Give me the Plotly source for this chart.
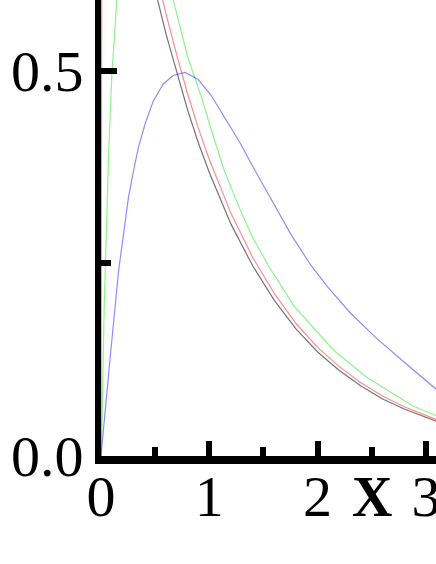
import plotly.graph_objects as go

# ---- data ----
black_x = [0, 0.1, 0.2, 0.3, 0.4, 0.5, 0.6, 0.7, 0.8, 0.9, 1.0, 1.2, 1.4, 1.6, 1.8, 2.0, 2.2, 2.4, 2.6, 2.8, 3.0, 3.1]
black_y = [1.0, 0.90, 0.82, 0.74, 0.67, 0.605, 0.548, 0.497, 0.449, 0.406, 0.368, 0.301, 0.247, 0.202, 0.165, 0.135, 0.111, 0.091, 0.074, 0.061, 0.050, 0.045]

red_x = [0, 0.01, 0.1, 0.2, 0.3, 0.4, 0.5, 0.6, 0.7, 0.8, 0.9, 1.0, 1.2, 1.4, 1.6, 1.8, 2.0, 2.2, 2.4, 2.6, 2.8, 3.0, 3.1]
red_y = [0, 0.95, 0.93, 0.85, 0.775, 0.70, 0.633, 0.574, 0.520, 0.470, 0.425, 0.385, 0.315, 0.258, 0.211, 0.172, 0.141, 0.116, 0.095, 0.078, 0.064, 0.052, 0.047]

green_x = [0, 0.01, 0.03, 0.05, 0.07, 0.10, 0.15, 0.2, 0.3, 0.4, 0.5, 0.6, 0.67, 0.80, 0.927, 1.03, 1.14, 1.263, 1.385, 1.538, 1.78, 2.15, 2.456, 2.88, 3.07, 3.1]
green_y = [0, 0.05, 0.197, 0.31, 0.39, 0.495, 0.60, 0.66, 0.71, 0.71, 0.675, 0.625, 0.59, 0.518, 0.466, 0.418, 0.370, 0.327, 0.288, 0.249, 0.195, 0.137, 0.102, 0.065, 0.054, 0.052]

blue_x = [0, 0.04, 0.07, 0.10, 0.125, 0.162, 0.208, 0.254, 0.30, 0.346, 0.407, 0.483, 0.575, 0.667, 0.774, 0.896, 1.018, 1.19, 1.29, 1.385, 1.569, 1.752, 1.936, 2.09, 2.30, 2.55, 2.79, 3.07, 3.1]
blue_y = [0, 0.067, 0.106, 0.150, 0.184, 0.240, 0.288, 0.336, 0.370, 0.401, 0.431, 0.461, 0.483, 0.494, 0.498, 0.489, 0.468, 0.429, 0.405, 0.380, 0.334, 0.288, 0.248, 0.220, 0.186, 0.152, 0.123, 0.089, 0.086]

x_ticks = [0, 1, 2, 3]
x_tick_labels = ["0", "1", "2", "3"]
y_ticks = [0.0, 0.5]
y_tick_labels = ["0.0", "0.5"]

FONT = "'Liberation Serif', 'Times New Roman', Times, serif"

fig = go.Figure()
series = [
    (black_x, black_y, "rgba(0,0,0,0.55)"),
    (red_x, red_y, "rgba(255,0,0,0.45)"),
    (green_x, green_y, "rgba(0,230,0,0.45)"),
    (blue_x, blue_y, "rgba(0,0,255,0.45)"),
]
for xs, ys, col in series:
    fig.add_trace(go.Scatter(x=xs, y=ys, mode="lines",
                             line=dict(color=col, width=1.2),
                             showlegend=False, hoverinfo="skip"))

fig.update_layout(
    width=436, height=564,
    margin=dict(l=101, r=0, t=0, b=108, autoexpand=False),
    paper_bgcolor="white", plot_bgcolor="white",
    font=dict(family=FONT, color="black"),
    xaxis=dict(range=[0, 3.093], showgrid=False, zeroline=False, automargin=False,
               showline=True, linecolor="black", linewidth=8,
               tickmode="array", tickvals=x_ticks, ticktext=x_tick_labels,
               ticks="inside", ticklen=15, tickwidth=6, tickcolor="black",
               minor=dict(dtick=0.5, ticks="inside", ticklen=9, tickwidth=6, tickcolor="black"),
               ticklabelstandoff=-18, ticklabeloverflow="allow",
               tickfont=dict(family=FONT, size=58, color="black")),
    yaxis=dict(range=[0, 0.592], showgrid=False, zeroline=False, automargin=False,
               showline=True, linecolor="black", linewidth=6,
               tickmode="array", tickvals=y_ticks, ticktext=y_tick_labels,
               ticks="inside", ticklen=16, tickwidth=6, tickcolor="black",
               minor=dict(dtick=0.25, ticks="inside", ticklen=10, tickwidth=6, tickcolor="black"),
               ticklabeloverflow="allow",
               tickfont=dict(family=FONT, size=58, color="black")),
    annotations=[dict(x=2.5, xref="x", y=-0.09, yref="paper", text="<b>X</b>",
                      showarrow=False, xanchor="center", yanchor="middle",
                      font=dict(family=FONT, size=56, color="black"))],
)

fig.write_html("out.html", config={"displayModeBar": False},
               post_script="document.body.style.margin='0';document.body.style.padding='0';")
